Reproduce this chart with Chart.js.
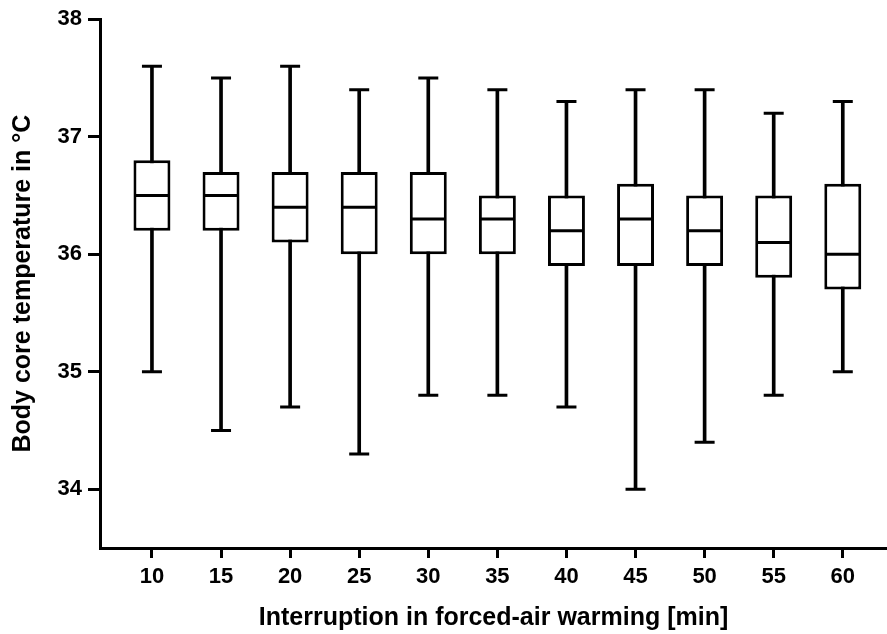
<!DOCTYPE html>
<html>
<head>
<meta charset="utf-8">
<script src="https://cdn.jsdelivr.net/npm/chart.js@4/dist/chart.umd.min.js"></script>
<style>
  body { margin: 0; background: #fff; }
  #wrap { width: 887px; height: 634px; }
</style>
</head>
<body>
<div id="wrap"><canvas id="Chart1"></canvas></div>
<script>
// interruption in minutes and box plot values (degrees C)
var minutes = [10, 15, 20, 25, 30, 35, 40, 45, 50, 55, 60];
var whiskerLow = [35.0, 34.5, 34.7, 34.3, 34.8, 34.8, 34.7, 34.0, 34.4, 34.8, 35.0];
var q1 = [36.2, 36.2, 36.1, 36.0, 36.0, 36.0, 35.9, 35.9, 35.9, 35.8, 35.7];
var medians = [36.5, 36.5, 36.4, 36.4, 36.3, 36.3, 36.2, 36.3, 36.2, 36.1, 36.0];
var q3 = [36.8, 36.7, 36.7, 36.7, 36.7, 36.5, 36.5, 36.6, 36.5, 36.5, 36.6];
var whiskerHigh = [37.6, 37.5, 37.6, 37.4, 37.5, 37.4, 37.3, 37.4, 37.4, 37.2, 37.3];
var yTicks = [34, 35, 36, 37, 38];

var font = 'Liberation Sans, Arial, Helvetica, sans-serif';

var whiskerData = minutes.map(function (m, i) { return { x: m, y: [whiskerLow[i], whiskerHigh[i]] }; });
var boxData = minutes.map(function (m, i) { return { x: m, y: [q1[i], q3[i]] }; });
var capData = [];
minutes.forEach(function (m, i) {
    capData.push({ x: m, y: whiskerLow[i] });
    capData.push({ x: m, y: whiskerHigh[i] });
});
var medianData = minutes.map(function (m, i) { return { x: m, y: medians[i] }; });

var ctx1 = document.getElementById('Chart1').getContext('2d');
var chart1 = new Chart(ctx1, {
    type: 'bar',
    data: {
        datasets: [
            {
                // whisker stems, drawn behind the boxes
                data: whiskerData,
                backgroundColor: '#000',
                barThickness: 3,
                grouped: false,
                order: 3
            },
            {
                data: boxData,
                backgroundColor: '#fff',
                borderColor: '#000',
                borderWidth: 3,
                borderSkipped: false,
                categoryPercentage: 1,
                barPercentage: 0.535,
                grouped: false,
                order: 2
            },
            {
                type: 'line',
                data: capData,
                showLine: false,
                pointStyle: 'line',
                pointRadius: 10,
                pointBorderWidth: 3,
                borderColor: '#000',
                order: 1
            },
            {
                type: 'line',
                data: medianData,
                showLine: false,
                pointStyle: 'line',
                pointRadius: 17,
                pointBorderWidth: 3,
                borderColor: '#000',
                order: 0
            }
        ]
    },
    options: {
        responsive: true,
        maintainAspectRatio: false,
        animation: false,
        layout: { autoPadding: false, padding: { top: 14, right: 0, left: 0, bottom: 0 } },
        plugins: { legend: { display: false }, tooltip: { enabled: false } },
        scales: {
            x: {
                type: 'linear',
                min: 6.24,
                max: 63.2,
                offset: false,
                afterBuildTicks: function (s) { s.ticks = minutes.map(function (v) { return { value: v }; }); },
                afterFit: function (s) { s.height = 86; },
                grid: { display: true, drawOnChartArea: false, offset: false, tickLength: 10, tickWidth: 3, tickColor: '#000' },
                border: { display: true, width: 3, color: '#000' },
                ticks: { color: '#000', padding: 6, font: { family: font, size: 22, weight: 'bold' } },
                title: {
                    display: true,
                    text: 'Interruption in forced-air warming [min]',
                    color: '#000',
                    padding: { top: 0, bottom: 1 },
                    font: { family: font, size: 25, weight: 'bold' }
                }
            },
            y: {
                min: 33.5,
                max: 38,
                afterBuildTicks: function (s) { s.ticks = yTicks.map(function (v) { return { value: v }; }); },
                afterFit: function (s) { s.width = 100; },
                grid: { display: true, drawOnChartArea: false, tickLength: 12, tickWidth: 3, tickColor: '#000' },
                border: { display: true, width: 3, color: '#000' },
                ticks: { color: '#000', padding: 6, font: { family: font, size: 22, weight: 'bold' } },
                title: {
                    display: true,
                    text: 'Body core temperature in °C',
                    color: '#000',
                    padding: { top: 8, bottom: 0 },
                    font: { family: font, size: 25, weight: 'bold' }
                }
            }
        }
    }
});
</script>
</body>
</html>
